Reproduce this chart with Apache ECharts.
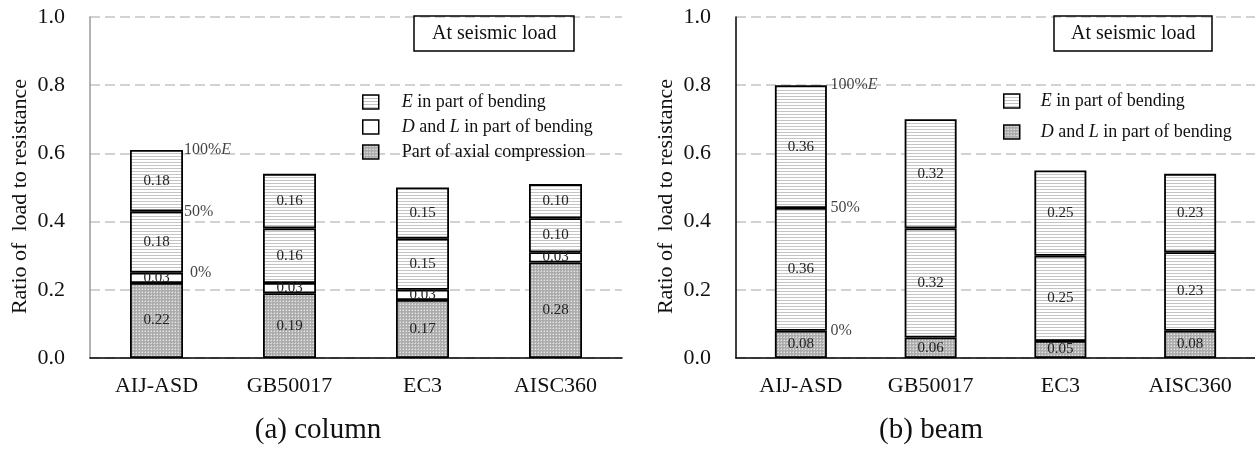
<!DOCTYPE html>
<html>
<head>
<meta charset="utf-8">
<title>Ratio of load to resistance</title>
<script src="https://cdn.jsdelivr.net/npm/echarts@6/dist/echarts.min.js"></script>
<style>
  html, body { margin: 0; padding: 0; background: #fff; }
  #main { width: 1255px; height: 449px; }
</style>
</head>
<body>
<div id="main"></div>
<script>
  // data
  var categories = ['AIJ-ASD', 'GB50017', 'EC3', 'AISC360'];
  // (a) column
  var colAxial = [0.22, 0.19, 0.17, 0.28];
  var colDL = [0.03, 0.03, 0.03, 0.03];
  var colE = [0.18, 0.16, 0.15, 0.10];   // each half of E (0-50%, 50-100%)
  // (b) beam
  var beamDL = [0.08, 0.06, 0.05, 0.08];
  var beamE = [0.36, 0.32, 0.25, 0.23];
  var yTicks = [0, 0.2, 0.4, 0.6, 0.8, 1.0];
  var percentMarks = ['0%', '50%', '100%{i|E}'];

  var FONT = '"Times New Roman", "Liberation Serif", serif';

  // fill patterns
  function stripes() {
    var c = document.createElement('canvas');
    c.width = 4; c.height = 3;
    var g = c.getContext('2d');
    g.fillStyle = '#ffffff'; g.fillRect(0, 0, 4, 3);
    g.fillStyle = '#c4c4c4'; g.fillRect(0, 0, 4, 1);
    return { image: c, repeat: 'repeat' };
  }
  function dots() {
    var c = document.createElement('canvas');
    c.width = 3; c.height = 3;
    var g = c.getContext('2d');
    g.fillStyle = '#acacac'; g.fillRect(0, 0, 3, 3);
    g.fillStyle = '#e2e2e2'; g.fillRect(1, 1, 1, 1);
    g.fillStyle = '#c8c8c8'; g.fillRect(0, 1, 1, 1); g.fillRect(1, 0, 1, 1);
    return { image: c, repeat: 'repeat' };
  }
  var STRIPE = stripes(), DOTS = dots();

  var legendText = {
    colE: '{i|E} in part of bending',
    colDL: '{i|D} and {i|L} in part of bending',
    colAx: 'Part of axial compression',
    beamE: '{i|E} in part of bending',
    beamDL: '{i|D} and {i|L} in part of bending'
  };

  function segLabel() {
    return {
      show: true,
      position: 'inside',
      fontFamily: FONT,
      fontSize: 15,
      color: '#222',
      formatter: function (p) { return p.value.toFixed(2); }
    };
  }
  function barSeries(name, data, fill, xi, stack) {
    return {
      name: name,
      type: 'bar',
      stack: stack,
      xAxisIndex: xi,
      yAxisIndex: xi,
      barWidth: xi === 0 ? 53 : 52,
      data: data,
      itemStyle: { color: fill, borderColor: '#000', borderWidth: 1.8 },
      label: segLabel()
    };
  }

  // percent annotations next to the first bar, at the stacked boundaries
  function marks(xi, base, half, dist) {
    var levels = [base, base + half, base + 2 * half];
    return {
      type: 'scatter',
      xAxisIndex: xi,
      yAxisIndex: xi,
      symbolSize: 1,
      itemStyle: { color: 'rgba(0,0,0,0)' },
      z: 5,
      data: levels.map(function (v, k) {
        return {
          value: [categories[0], v],
          label: { distance: k === 0 ? dist[0] : dist[1] }
        };
      }),
      label: {
        show: true,
        position: 'right',
        fontFamily: FONT,
        fontSize: 16,
        color: '#111',
        formatter: function (p) { return percentMarks[p.dataIndex]; },
        rich: { i: { fontFamily: FONT, fontSize: 16, fontStyle: 'italic', color: '#111' } }
      }
    };
  }

  function xAxis(i) {
    return {
      type: 'category',
      gridIndex: i,
      data: categories,
      axisTick: { show: false },
      axisLine: { lineStyle: { color: '#000', width: 1.5 } },
      axisLabel: { fontFamily: FONT, fontSize: 22, color: '#111', margin: 17 }
    };
  }
  function yAxis(i) {
    return {
      type: 'value',
      gridIndex: i,
      min: 0, max: 1, interval: 0.2,
      name: 'Ratio of  load to resistance',
      nameLocation: 'middle',
      nameGap: 59,
      nameTextStyle: { fontFamily: FONT, fontSize: 22, color: '#111', padding: [0, 18, 0, 0] },
      axisLine: { show: true, lineStyle: { color: i === 0 ? '#9a9a9a' : '#000', width: 1.5 } },
      axisTick: { show: false },
      axisLabel: {
        fontFamily: FONT, fontSize: 22, color: '#111', margin: 25,
        formatter: function (v) { return yTicks.indexOf(v) >= 0 ? v.toFixed(1) : ''; }
      },
      splitLine: { lineStyle: { color: '#c4c4c4', width: 1.5, type: [10, 5] } }
    };
  }

  var legendBase = {
    orient: 'vertical',
    icon: 'rect',
    itemWidth: 16,
    itemHeight: 14,
    padding: 0,
    itemStyle: { borderColor: '#000', borderWidth: 1.5 },
    formatter: function (n) { return legendText[n]; },
    selectedMode: false
  };

  var chart = echarts.init(document.getElementById('main'));
  chart.setOption({
    backgroundColor: '#fff',
    animation: false,
    title: [
      { text: 'At seismic load', left: 414, top: 16, padding: [8, 18, 7, 18],
        borderColor: '#000', borderWidth: 1.5,
        textStyle: { fontFamily: FONT, fontSize: 20, fontWeight: 'normal', color: '#111' } },
      { text: 'At seismic load', left: 1054, top: 16, padding: [8, 17, 7, 17],
        borderColor: '#000', borderWidth: 1.5,
        textStyle: { fontFamily: FONT, fontSize: 20, fontWeight: 'normal', color: '#111' } }
    ],
    legend: [
      Object.assign({}, legendBase, {
        left: 362, top: 93, itemGap: 7,
        data: ['colE', 'colDL', 'colAx'],
        textStyle: { fontFamily: FONT, fontSize: 18, color: '#111', padding: [0, 0, 0, 18],
          rich: { i: { fontFamily: FONT, fontSize: 18, fontStyle: 'italic', color: '#111' } } }
      }),
      Object.assign({}, legendBase, {
        left: 1003, top: 92, itemGap: 13,
        data: ['beamE', 'beamDL'],
        textStyle: { fontFamily: FONT, fontSize: 18, color: '#111', padding: [0, 0, 0, 16],
          rich: { i: { fontFamily: FONT, fontSize: 18, fontStyle: 'italic', color: '#111' } } }
      })
    ],
    grid: [
      { left: 90, top: 17, width: 532, height: 341 },
      { left: 736, top: 17, width: 521, height: 341 }
    ],
    xAxis: [xAxis(0), xAxis(1)],
    yAxis: [yAxis(0), yAxis(1)],
    graphic: [
      { type: 'text', x: 318, y: 430,
        style: { text: '(a) column', font: '29px ' + FONT, fill: '#111',
          align: 'center', verticalAlign: 'middle', textAlign: 'center', textVerticalAlign: 'middle' } },
      { type: 'text', x: 931, y: 430,
        style: { text: '(b) beam', font: '29px ' + FONT, fill: '#111',
          align: 'center', verticalAlign: 'middle', textAlign: 'center', textVerticalAlign: 'middle' } }
    ],
    series: [
      barSeries('colAx', colAxial, DOTS, 0, 'col'),
      barSeries('colDL', colDL, '#fff', 0, 'col'),
      barSeries('colE', colE, STRIPE, 0, 'col'),
      barSeries('colE', colE, STRIPE, 0, 'col'),
      marks(0, colAxial[0] + colDL[0], colE[0], [33, 27]),
      barSeries('beamDL', beamDL, DOTS, 1, 'beam'),
      barSeries('beamE', beamE, STRIPE, 1, 'beam'),
      barSeries('beamE', beamE, STRIPE, 1, 'beam'),
      marks(1, beamDL[0], beamE[0], [29, 29])
    ]
  });
</script>
</body>
</html>
